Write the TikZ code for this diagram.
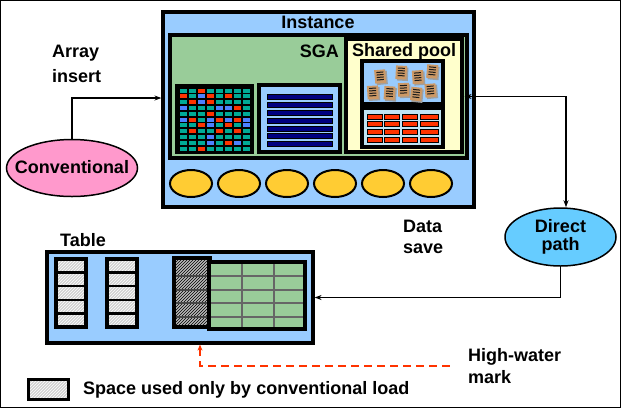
\documentclass[tikz,border=0pt]{standalone}
\usepackage{fontspec}
\setmainfont{Liberation Sans}
\usetikzlibrary{shapes.geometric,patterns,arrows.meta}
\definecolor{instblue}{HTML}{99CCFF}
\definecolor{sgagreen}{HTML}{99CC99}
\definecolor{poolyellow}{HTML}{FFFFCC}
\definecolor{ovalyellow}{HTML}{FFCC33}
\definecolor{convpink}{HTML}{FF99CC}
\definecolor{directblue}{HTML}{66CCFF}
\definecolor{cT}{HTML}{00AA96}
\definecolor{cR}{HTML}{FF3300}
\definecolor{cB}{HTML}{4D80FF}
\definecolor{navy}{HTML}{000080}
\definecolor{paleblue}{HTML}{C0E4F4}
\definecolor{doctan}{HTML}{CC9966}
\definecolor{hwred}{HTML}{FF3300}
\definecolor{gridgray}{HTML}{666666}
\begin{document}
\begin{tikzpicture}[x=1pt,y=-1pt,
  font=\fontsize{18}{21.5}\selectfont\bfseries,
  box/.style={draw, line width=3.2pt, rectangle, inner sep=0pt},
  oval/.style={draw, ellipse, line width=2pt, fill=ovalyellow, minimum width=42pt, minimum height=27pt, inner sep=0pt},
  bigell/.style={draw, ellipse, line width=1.5pt, inner sep=0pt},
  conn/.style={line width=1.4pt, arrows={-Stealth[length=7pt,width=5pt]}},
  lbl/.style={inner sep=0pt, align=left, anchor=west},
  lighthatch/.style={pattern=north east lines, pattern color=white},
  darkhatch/.style={pattern=north east lines, pattern color=black}]
\useasboundingbox (0,0) rectangle (621,408);
\draw[line width=1pt] (0.5,0.5) rectangle (620.5,407.5);

% Instance
\node[box, fill=instblue, minimum width=311pt, minimum height=195pt] (inst) at (318.5,109.5) {};
\node[inner sep=0pt] (insttext) at (318,22.5) {Instance};
% SGA
\node[box, fill=sgagreen, minimum width=297pt, minimum height=123pt] (sga) at (318.5,96.5) {};
\node[inner sep=0pt, anchor=east] (sgatext) at (339,51) {SGA};
% Shared pool
\node[box, fill=poolyellow, minimum width=116pt, minimum height=113pt] (pool) at (404,95.5) {};
\node[inner sep=0pt] (pooltext) at (404,52) {Shared pool};
\node[box, fill=instblue, minimum width=81pt, minimum height=43pt] (docs) at (402.5,82.5) {};
\node[box, fill=paleblue, minimum width=81pt, minimum height=39pt] (redbox) at (402.5,127.5) {};
% documents
\foreach \x/\y/\a in {380.7/76.7/5, 401.7/72.7/-3, 418.3/77.3/4, 432.7/71.7/-5, 373.3/92.7/3, 390/93.3/-4, 404/90/2, 416.7/94.3/-6, 431/90.7/5}{
  \begin{scope}[shift={(\x,\y)}, rotate=\a]
    \fill[gray!75] (-4.5,-5.5) rectangle (6.5,8);
    \fill[doctan] (-6,-7) rectangle (5,6.5);
    \foreach \k in {-4.5,-2,0.5,3}
      \draw[gray!20!black, line width=1pt] (-4,\k) -- (3,\k);
  \end{scope}
}
% red bars
\foreach \ya/\yb in {114/119, 121/126, 129/134, 137/142}{
  \foreach \xa/\xb in {367/382, 384/399, 402/417, 420/438}{
    \draw[fill=cR, line width=0.8pt] (\xa,\ya) rectangle (\xb,\yb);
  }
}
% buffer cache grid
\node[box, fill=black, minimum width=75pt, minimum height=66pt] (cache) at (214.5,119) {};
\foreach \row [count=\j from 0] in {{T,T,R,T,T,T,T,T},{R,T,B,R,T,R,T,T},{T,R,B,R,T,T,T,T},{B,T,T,T,B,B,R,T},{T,T,T,R,T,T,T,T},{B,R,T,B,R,B,R,B},{T,T,R,B,T,R,T,B},{T,R,T,T,R,T,R,T},{T,T,T,B,T,T,T,T},{T,T,T,B,T,R,B,T},{T,T,R,T,T,T,T,T}}{
  \foreach \cl [count=\i from 0] in \row {
    \fill[c\cl] ({179.5+9*\i},{88.5+5.8*\j}) rectangle ++(7,4);
  }
}
% log buffer
\node[box, fill=instblue, minimum width=81pt, minimum height=67pt] (logbuf) at (299.5,118.5) {};
\foreach \k in {0,...,6}{
  \draw[fill=navy, line width=0.6pt] (267,{94.5+7.83*\k}) rectangle ++(65,5);
}
% processes
\foreach \k in {0,...,5}{
  \node[oval] (ov\k) at ({191+48*\k},183.5) {};
}

% Conventional
\node[bigell, fill=convpink, minimum width=131pt, minimum height=57pt] (conv) at (72,168) {};
\node[inner sep=0pt] (convtext) at (72,167) {Conventional};
\node[lbl, font=\fontsize{18}{25}\selectfont\bfseries] (arrtext) at (52,64) {Array\\insert};

% Direct path
\node[bigell, fill=directblue, minimum width=111pt, minimum height=58pt, align=center, font=\fontsize{18}{18}\selectfont\bfseries] (direct) at (560.5,237) {Direct\\path};
\node[lbl] (datatext) at (403,237) {Data\\save};

% Table
\node[box, fill=instblue, minimum width=266pt, minimum height=91pt] (tab) at (180,297.5) {};
\node[lbl] (tabtext) at (60,240) {Table};
\foreach \xa in {56,107}{
  \fill[gray!35] (\xa,259) rectangle ++(30,68);
  \fill[lighthatch] (\xa,259) rectangle ++(30,68);
  \foreach \k in {1,...,4}
    \draw[line width=2.4pt] (\xa,{259+13.6*\k}) -- ++(30,0);
  \draw[line width=3.2pt] (\xa,259) rectangle ++(30,68);
}
\fill[gray!55] (174,258) rectangle (210,327);
\fill[darkhatch] (174,258) rectangle (210,327);
\foreach \yy in {276,290,303,317}
  \draw[line width=1.4pt, gridgray!70!black] (174,\yy) -- (210,\yy);
\draw[line width=3.2pt] (174,258) rectangle (210,327);
\node[box, fill=sgagreen, minimum width=96pt, minimum height=67pt] (green) at (257,295.5) {};
\foreach \yy in {276,290,303,317}
  \draw[line width=1.4pt, gridgray] (210.6,\yy) -- (303.4,\yy);
\foreach \xx in {242,274}
  \draw[line width=1.4pt, gridgray] (\xx,263.6) -- (\xx,327.4);
\draw[line width=3.2pt] (209,262) rectangle (305,329);

% connectors
\draw[conn] (conv.north) |- ([yshift=11.5pt]inst.west);
\draw[line width=1.4pt, arrows={Stealth[length=7pt,width=5pt]-Stealth[length=7pt,width=5pt]}] ([xshift=-4pt]sga.east) -| ([xshift=5.5pt]direct.north);
\draw[conn] (direct.south) |- (tab.east);

% High-water mark
\node[lbl] (hwtext) at (468,366) {High-water\\mark};
\draw[hwred, line width=1.5pt, dash pattern=on 8pt off 5pt, arrows={Stealth[length=6pt,width=5pt]-}, shorten >=13pt] ([xshift=20pt]tab.south) |- (hwtext.west);

% legend
\node[box, minimum width=37pt, minimum height=17pt] (legbox) at (48.5,389.5) {};
\fill[gray!35] (legbox.south west) rectangle (legbox.north east);
\fill[lighthatch] (legbox.south west) rectangle (legbox.north east);
\draw[line width=3.2pt] (legbox.south west) rectangle (legbox.north east);
\node[lbl] (legtext) at (83,390) {Space used only by conventional load};
\end{tikzpicture}
\end{document}
